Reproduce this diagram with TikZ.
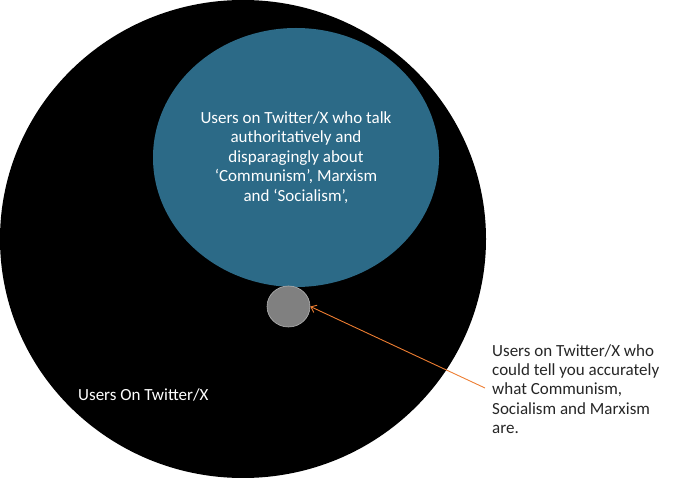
\documentclass[tikz,border=0pt]{standalone}
\usepackage{fontspec}
\setmainfont{Carlito}
\usetikzlibrary{shapes.geometric,arrows.meta}
\definecolor{bluefill}{HTML}{2C6A87}
\definecolor{grayfill}{HTML}{808080}
\definecolor{arroworange}{HTML}{ED7D31}
\definecolor{textdark}{HTML}{262626}
\tikzset{
  blob/.style={ellipse, inner sep=0pt, draw=none},
  labeltext/.style={font=\fontsize{17}{19.4}\selectfont, align=left, inner sep=0pt},
}
\begin{document}
\begin{tikzpicture}[x=1pt,y=-1pt]
\useasboundingbox (0,0) rectangle (680,478);
\node[blob, fill=black, minimum width=486pt, minimum height=478pt] (all) at (243,239) {};
\node[blob, fill=bluefill, minimum width=286pt, minimum height=259pt, text=white,
      font=\fontsize{17}{19.5}\selectfont, align=center] (talk) at (296,157.5)
  {Users on Twitter/X who talk\\authoritatively and\\disparagingly about\\‘Communism’, Marxism\\and ‘Socialism’,};
\node[blob, fill=grayfill, draw=gray!60, line width=0.6pt, minimum width=43pt, minimum height=41pt] (know) at (288.5,306.5) {};
\node[labeltext, text=white, anchor=west] (alllabel) at (78,395) {Users On Twitter/X};
\node[labeltext, text=textdark, anchor=north west] (knowlabel) at (492,344) {Users on Twitter/X who\\could tell you accurately\\what Communism,\\Socialism and Marxism\\are.};
\coordinate (src) at (485,388);
\draw[arroworange, line width=0.9pt, -{Straight Barb[length=5pt,width=8pt]}] (src) -- (know.east);
\end{tikzpicture}
\end{document}
